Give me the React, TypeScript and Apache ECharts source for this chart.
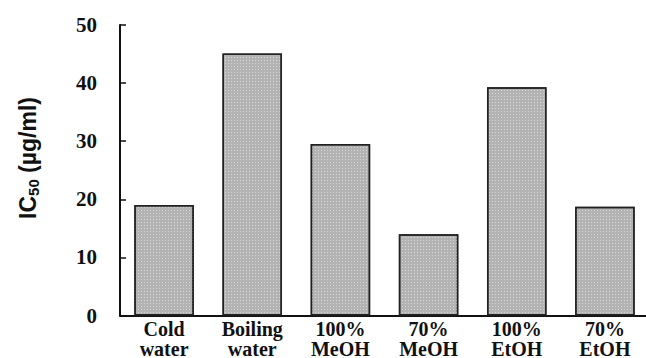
import React, { useEffect, useRef } from "react";
import * as echarts from "echarts";

const categories = ["Cold\nwater", "Boiling\nwater", "100%\nMeOH", "70%\nMeOH", "100%\nEtOH", "70%\nEtOH"];
const ic50Values = [19.0, 45.1, 29.5, 14.0, 39.3, 18.7];
const yTicks = [0, 10, 20, 30, 40, 50];

export default function App() {
  const ref = useRef<HTMLDivElement>(null);
  useEffect(() => {
    if (!ref.current) return;
    const chart = echarts.init(ref.current, null, { renderer: "svg" });
    const serif = "'Liberation Serif', 'Times New Roman', serif";
    chart.setOption({
      animation: false,
      backgroundColor: "#ffffff",
      aria: { enabled: false, decal: { show: true } },
      grid: {
        left: 120,
        top: 25,
        width: 529,
        height: 290.5,
        containLabel: false,
        outerBoundsMode: "none",
      },
      xAxis: {
        type: "category",
        data: categories,
        boundaryGap: true,
        axisLine: { show: true, lineStyle: { color: "#111", width: 2 } },
        axisTick: { show: false },
        axisLabel: {
          interval: 0,
          margin: 3,
          fontFamily: serif,
          fontWeight: "bold",
          fontSize: 20,
          lineHeight: 20,
          color: "#111",
          align: "center",
        },
        splitLine: { show: false },
      },
      yAxis: {
        type: "value",
        min: yTicks[0],
        max: yTicks[yTicks.length - 1],
        interval: 10,
        axisLine: { show: true, onZero: false, lineStyle: { color: "#111", width: 2 } },
        axisTick: { show: true, inside: true, length: 6, lineStyle: { color: "#111", width: 1.5 } },
        axisLabel: {
          margin: 23,
          fontFamily: serif,
          fontWeight: "bold",
          fontSize: 21,
          color: "#111",
        },
        splitLine: { show: false },
      },
      series: [
        {
          type: "bar",
          data: ic50Values,
          barWidth: "67.5%",
          itemStyle: {
            color: "#b3b3b3",
            borderColor: "#222",
            borderWidth: 1.5,
            decal: {
              symbol: "rect",
              symbolSize: 1,
              color: "rgba(255,255,255,0.45)",
              dashArrayX: [1, 2],
              dashArrayY: [1, 2],
              rotation: 0,
            },
          },
        },
      ],
      graphic: [
        {
          type: "text",
          x: 28,
          y: 158,
          rotation: Math.PI / 2,
          style: {
            text: "{a|IC}{b|50}{a| (µg/ml)}",
            align: "center",
            verticalAlign: "middle",
            fill: "#111",
            rich: {
              a: {
                fontFamily: "'Liberation Sans', Arial, sans-serif",
                fontWeight: "bold",
                fontSize: 23,
                fill: "#111",
                color: "#111",
              },
              b: {
                fontFamily: "'Liberation Sans', Arial, sans-serif",
                fontWeight: "bold",
                fontSize: 15,
                fill: "#111",
                color: "#111",
                padding: [10, 0, 0, 0],
              },
            },
          },
        },
      ],
    });
    return () => chart.dispose();
  }, []);
  return (
    <div
      ref={ref}
      style={{ position: "absolute", left: 0, top: 0, width: 646, height: 358, background: "#fff" }}
    />
  );
}
